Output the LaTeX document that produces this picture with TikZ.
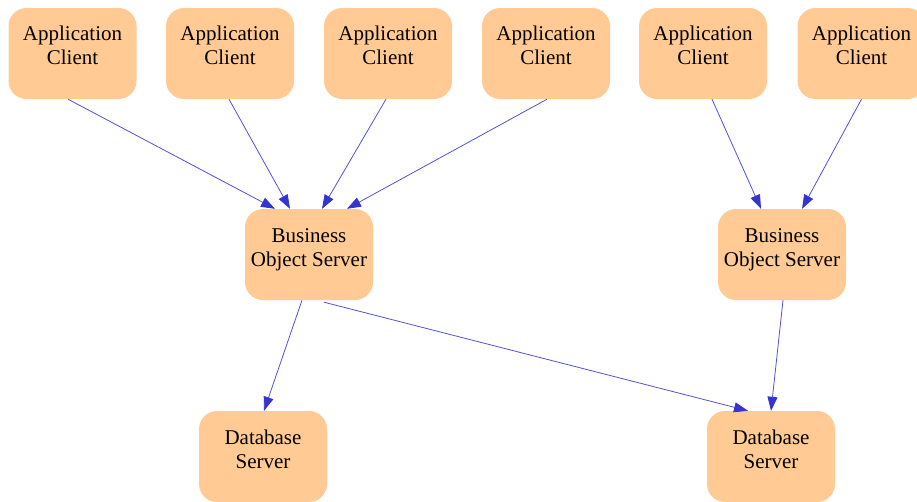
\documentclass[tikz,border=0pt]{standalone}
\usepackage{fontspec}
\setmainfont{Liberation Serif}
\usetikzlibrary{arrows.meta,calc}

\definecolor{boxfill}{RGB}{255,202,148}
\definecolor{edgeblue}{RGB}{52,52,208}

\tikzset{
  box/.style={draw=none, fill=boxfill, rounded corners=18pt,
    minimum width=128pt, minimum height=91pt, inner sep=0pt},
  boxtext/.style={align=center, font=\fontsize{21}{24}\selectfont, inner sep=0pt},
  link/.style={edgeblue!85, line width=0.8pt,
    -{Triangle[length=14pt,width=10pt,color=edgeblue]}}
}

\begin{document}
\begin{tikzpicture}[x=1pt, y=-1pt]
  \useasboundingbox (0,0) rectangle (917,501);

  % application clients
  \node[box] (ac1) at (72.5,53.5) {};
  \node[box] (ac2) at (230,53.5) {};
  \node[box] (ac3) at (388,53.5) {};
  \node[box] (ac4) at (546,53.5) {};
  \node[box] (ac5) at (703,53.5) {};
  \node[box] (ac6) at (861.5,53.5) {};
  \foreach \n in {ac1,ac2,ac3,ac4,ac5,ac6}
    \node[boxtext] (\n t) at ($(\n.center)+(0,-7.7)$) {Application\\Client};

  % business object servers
  \node[box] (bos1) at (309,254.5) {};
  \node[box] (bos2) at (782,254.5) {};
  \foreach \n in {bos1,bos2}
    \node[boxtext] (\n t) at ($(\n.center)+(0,-4.8)$) {Business\\Object Server};

  % database servers
  \node[box] (db1) at (263,456.5) {};
  \node[box] (db2) at (771,456.5) {};
  \foreach \n in {db1,db2}
    \node[boxtext] (\n t) at ($(\n.center)+(0,-7.3)$) {Database\\Server};

  % clients to object servers
  \draw[link] ($(ac1.south)+(-4.5,0)$) -- ($(bos1.north)+(-34,0)$);
  \draw[link] ($(ac2.south)+(-1,0)$)   -- ($(bos1.north)+(-19,0)$);
  \draw[link] ($(ac3.south)+(-2,0)$)   -- ($(bos1.north)+(13,0)$);
  \draw[link] ($(ac4.south)+(1,0)$)    -- ($(bos1.north)+(38,0)$);
  \draw[link] ($(ac5.south)+(9,0)$)    -- ($(bos2.north)+(-21,0)$);
  \draw[link] ($(ac6.south)+(0,0)$)    -- ($(bos2.north)+(20,0)$);

  % object servers to databases
  \draw[link] ($(bos1.south)+(-7,0)$)  -- ($(db1.north)+(1,0)$);
  \draw[link] ($(bos1.south)+(15,2)$)  -- ($(db2.north)+(-23,0)$);
  \draw[link] ($(bos2.south)+(1,0)$)   -- ($(db2.north)+(0,0)$);
\end{tikzpicture}
\end{document}
